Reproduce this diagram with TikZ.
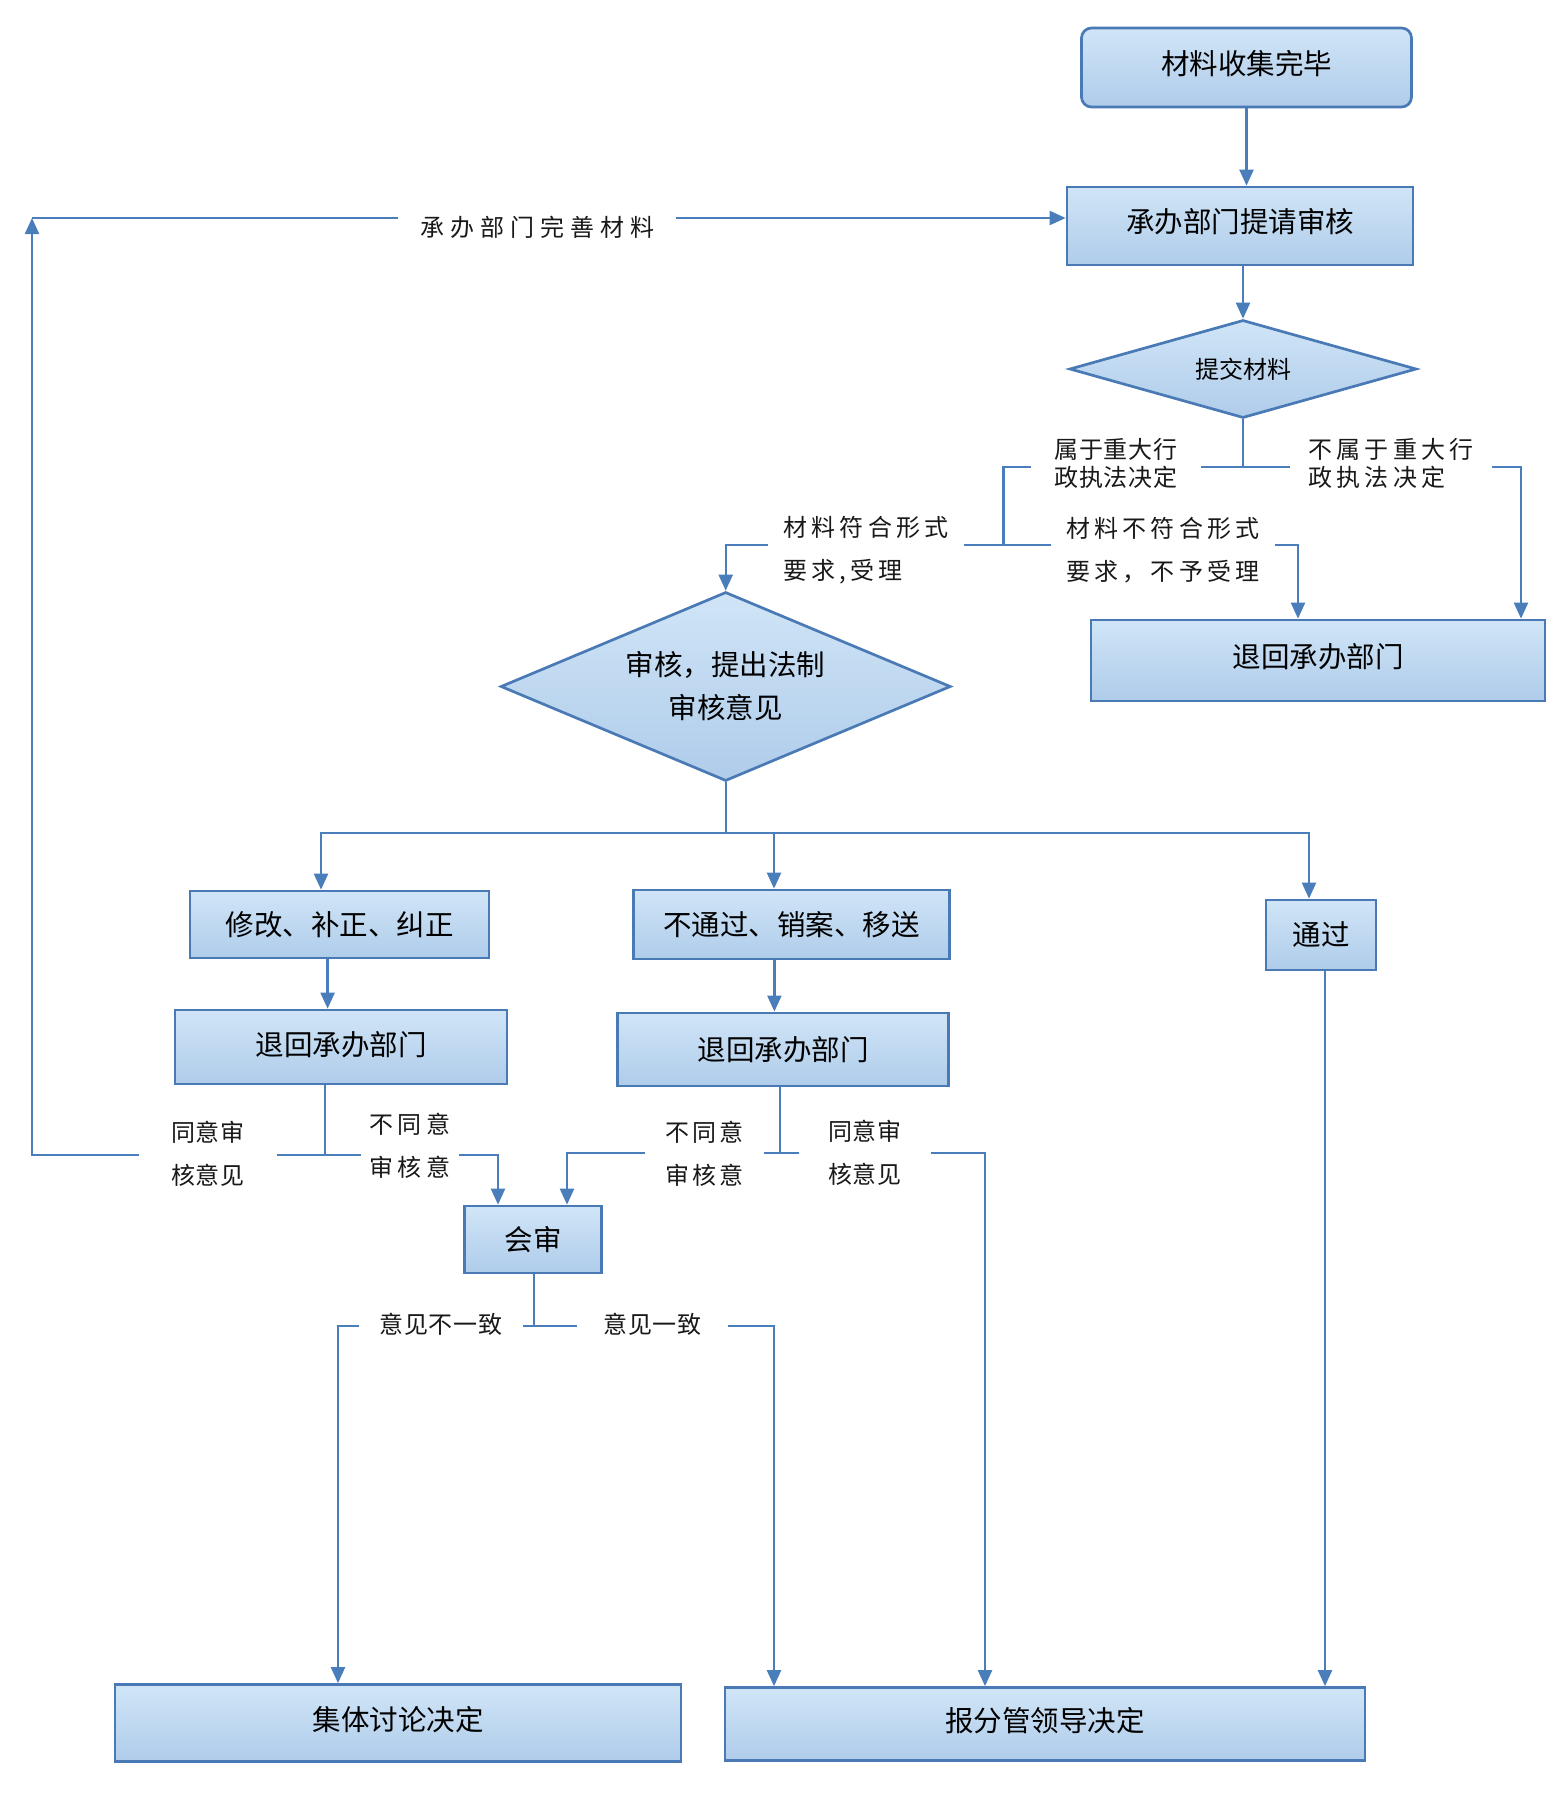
\documentclass[tikz,border=0pt]{standalone}
\usepackage{fontspec}
\setmainfont{Noto Sans CJK SC}
\newfontfamily\boxfont{Noto Sans CJK SC}
\newfontfamily\labS[LetterSpace=4]{Noto Sans CJK SC}
\newfontfamily\labM[LetterSpace=12]{Noto Sans CJK SC}
\newfontfamily\labL[LetterSpace=17]{Noto Sans CJK SC}
\newfontfamily\labXL[LetterSpace=25]{Noto Sans CJK SC}
\usetikzlibrary{arrows.meta,shapes.geometric}
\definecolor{lineblue}{HTML}{4A7EBB}
\definecolor{edgeblue}{HTML}{4A7AB5}
\definecolor{boxtop}{HTML}{D0E5F7}
\definecolor{boxbot}{HTML}{AFCCEA}
\begin{document}
\begin{tikzpicture}[x=1pt,y=-1pt,
  box/.style={draw=edgeblue, line width=2.7pt, top color=boxtop, bottom color=boxbot,
    inner sep=0pt, font=\boxfont\fontsize{28.5}{34}\selectfont, text=black},
  txtup/.style={text height=25pt, text depth=#1},
  dia/.style={box, diamond, align=center},
  conn/.style={draw=lineblue, line width=2.3pt},
  arr/.style={conn, -{Triangle[width=14pt,length=16pt]}},
  lab/.style={fill=white, text=black!90, inner ysep=1pt, align=left, anchor=center},
  lbS/.style={lab, font=\labS\fontsize{24}{#1}\selectfont}, lbS/.default=28,
  lbM/.style={lab, font=\labM\fontsize{24}{#1}\selectfont}, lbM/.default=28,
  lbL/.style={lab, font=\labL\fontsize{24}{#1}\selectfont}, lbL/.default=28,
  lbXL/.style={lab, font=\labXL\fontsize{24}{#1}\selectfont}, lbXL/.default=28,
]
\useasboundingbox[fill=white] (0,0) rectangle (1566,1796);

% ---------- nodes ----------
\node[box, txtup=12pt, rounded corners=10pt, minimum width=330pt, minimum height=79pt] (n1) at (1246.5,67.5) {材料收集完毕};
\node[box, txtup=12pt, minimum width=346pt, minimum height=78pt] (n2) at (1240,226) {承办部门提请审核};
\node[dia, shape aspect=3.5, minimum width=347pt, minimum height=98pt, font=\boxfont\fontsize{24}{28}\selectfont] (d1) at (1243,369) {提交材料};
\node[box, txtup=12pt, minimum width=454pt, minimum height=81pt] (r1) at (1318,660.5) {退回承办部门};
\node[dia, shape aspect=2.4, minimum width=450pt, minimum height=189pt, font=\boxfont\fontsize{28.5}{43}\selectfont] (d2) at (725.7,686.5) {审核，提出法制\\审核意见};
\node[box, minimum width=299pt, minimum height=67pt] (b1) at (339.5,924.5) {修改、补正、纠正};
\node[box, minimum width=316pt, minimum height=69pt] (b2) at (791.6,924.5) {不通过、销案、移送};
\node[box, minimum width=110pt, minimum height=70pt] (b3) at (1321,935) {通过};
\node[box, txtup=8pt, minimum width=332pt, minimum height=74pt] (b4) at (341,1047) {退回承办部门};
\node[box, minimum width=331pt, minimum height=73pt] (b5) at (783,1049.4) {退回承办部门};
\node[box, minimum width=137pt, minimum height=67pt] (hs) at (533,1239.5) {会审};
\node[box, txtup=10pt, minimum width=566pt, minimum height=77pt] (f1) at (398,1723) {集体讨论决定};
\node[box, txtup=10pt, minimum width=640pt, minimum height=73pt] (f2) at (1045,1724) {报分管领导决定};

% ---------- junctions ----------
\coordinate (j1) at (1243,467);
\coordinate (j1L) at (1003.5,467);
\coordinate (j2) at (1003.5,545);
\coordinate (j3) at (725.7,833);
\coordinate (j4) at (325,1155);
\coordinate (c1) at (32,1155);
\coordinate (c2) at (32,218);
\coordinate (j5) at (780,1153);
\coordinate (j6) at (534,1326);

% ---------- connectors ----------
\draw[arr] (n1.south) -- (n1.south |- n2.north);
\draw[arr] (d1.north |- n2.south) -- (d1.north);
\draw[conn] (d1.south) -- (j1);
\draw[conn] (j1) -- (j1L) -- (j2);
\draw[arr] (j1) -| (1521,0 |- r1.north);
\draw[arr] (j2) -| (d2.north);
\draw[arr] (j2) -| (1298,0 |- r1.north);

\draw[conn] (d2.south) -- (j3);
\draw[arr] (j3) -| (321,0 |- b1.north);
\draw[arr] (j3) -| (1309,0 |- b3.north);
\draw[arr] (774,0 |- j3) -- (774,0 |- b2.north);

\draw[arr] (327.6,0 |- b1.south) -- (327.6,0 |- b4.north);
\draw[arr] (774.4,0 |- b2.south) -- (774.4,0 |- b5.north);

\draw[conn] (325,0 |- b4.south) -- (j4);
\draw[arr] (j4) -- (c1) -- (c2);
\draw[arr] (c2) -- (c2 -| n2.west);
\draw[arr] (j4) -| (498,0 |- hs.north);

\draw[conn] (780,0 |- b5.south) -- (j5);
\draw[arr] (j5) -| (567,0 |- hs.north);
\draw[arr] (j5) -| (985,0 |- f2.north);

\draw[conn] (534,0 |- hs.south) -- (j6);
\draw[arr] (j6) -| (338,0 |- f1.north);
\draw[arr] (j6) -| (774,0 |- f2.north);
\draw[arr] (1325,0 |- b3.south) -- (1325,0 |- f2.north);

% ---------- labels ----------
\node[lbXL, inner xsep=22pt] (t1) at (537,227) {承办部门完善材料};
\node[lbS=28, inner xsep=23pt] (t2) at (1116,463) {属于重大行\\政执法决定};
\node[lbL=28, inner xsep=19pt] (t3) at (1391,463) {不属于重大行\\政执法决定};
\node[lbL=43, inner xsep=16pt] (t4) at (866,550.5) {材料符合形式\\要求,受理};
\node[lbL=43, inner xsep=16pt] (t5) at (1163,550.5) {材料不符合形式\\要求，不予受理};
\node[lbS=43, inner xsep=32pt] (t6) at (208,1153.5) {同意审\\核意见};
\node[lbL=43, inner xsep=9pt] (t7) at (410,1145.5) {不同意\\审核意};
\node[lbM=43, inner xsep=21pt] (t8) at (704.5,1153.5) {不同意\\审核意};
\node[lbS=43, inner xsep=29pt] (t9) at (865,1152.5) {同意审\\核意见};
\node[lbS, inner xsep=20pt] (t10) at (441,1324) {意见不一致};
\node[lbS, inner xsep=26pt] (t11) at (652.5,1324) {意见一致};
\end{tikzpicture}
\end{document}
